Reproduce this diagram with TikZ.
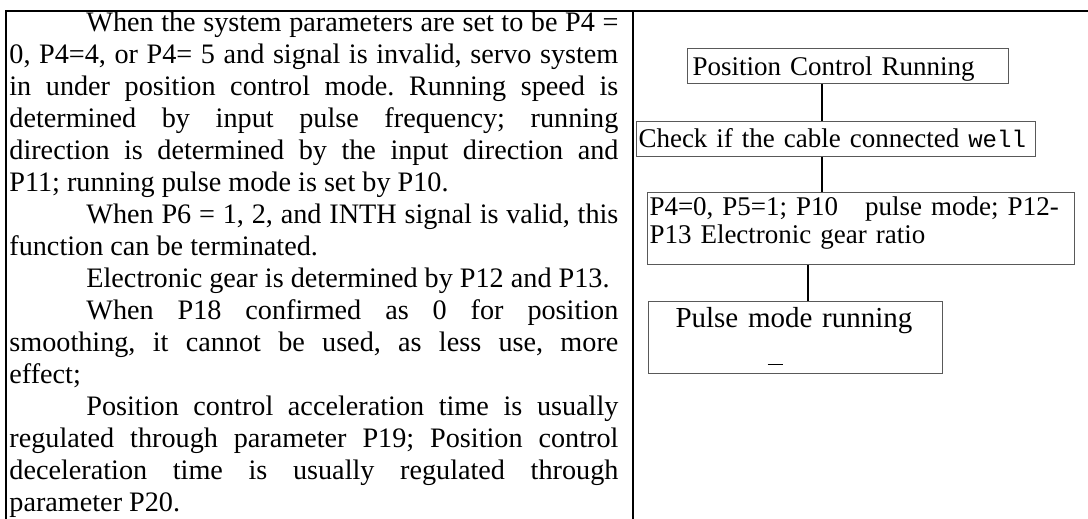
\documentclass[tikz,border=0pt]{standalone}
\usepackage{fontspec}
\setmainfont{Liberation Serif}
\setmonofont{Liberation Mono}
\frenchspacing
\begin{document}
\begin{tikzpicture}[x=0.5pt, y=-0.5pt,
    frame/.style={line width=1.3pt},
    flowbox/.style={draw=black!65, line width=0.5pt, anchor=north west, inner ysep=0pt, align=left, font=\fontsize{13.5}{14}\selectfont},
    link/.style={line width=0.7pt}]
    \useasboundingbox (0,0) rectangle (1088,519);
    % table rules
    \draw[frame] (6,519) -- (6,11) -- (1088,11);
    \draw[frame] (633,11) -- (633,519);

    \node (notes) [anchor=base west, inner sep=0pt, text width=304.5pt, align=justify, font=\fontsize{14.1}{16}\selectfont] at (9,32) {%
        \hspace*{38.5pt}When the system parameters are set to be P4 =\linebreak 0, P4=4, or P4= 5 and signal is invalid, servo system\linebreak in under position control mode. Running speed is\linebreak determined by input pulse frequency; running\linebreak direction is determined by the input direction and\linebreak P11; running pulse mode is set by P10.\par
        \hspace*{38.5pt}When P6 = 1, 2, and INTH signal is valid, this\linebreak function can be terminated.\par
        \hspace*{38.5pt}Electronic gear is determined by P12 and P13.\par
        \hspace*{38.5pt}When P18 confirmed as 0 for position\linebreak smoothing, it cannot be used, as less use, more\linebreak effect;\par
        \hspace*{38.5pt}Position control acceleration time is usually\linebreak regulated through parameter P19; Position control\linebreak deceleration time is usually regulated through\linebreak parameter P20.};

    % flow chart
    \node (running) [flowbox, inner xsep=2.5pt, text width=155.5pt, text height=13.5pt, text depth=4pt] at (687,48) {Position Control Running};
    \node (cable) [flowbox, inner xsep=1pt, text width=197.5pt, text height=13pt, text depth=4.5pt] at (636,121) {Check if the cable connected {\ttfamily\fontsize{12}{12}\selectfont well}};
    \node (params) [flowbox, inner xsep=1pt, text width=211.5pt, text height=11.5pt, text depth=24.5pt] at (647,192) {P4=0, P5=1; P10\ \ \ pulse mode; P12-\\P13 Electronic gear ratio};
    \node (mode) [flowbox, inner xsep=13.5pt, text width=120pt, text height=13pt, text depth=23pt, font=\fontsize{14.5}{17}\selectfont] at (648,301) {Pulse mode running\\\hspace*{46pt}\underline{\hspace{7.5pt}}};

    \coordinate (upper) at (822,0);
    \coordinate (lower) at (808,0);
    \draw[link] (running.south -| upper) -- (cable.north -| upper);
    \draw[link] (cable.south -| upper) -- (params.north -| upper);
    \draw[link] (params.south -| lower) -- (mode.north -| lower);
\end{tikzpicture}
\end{document}
